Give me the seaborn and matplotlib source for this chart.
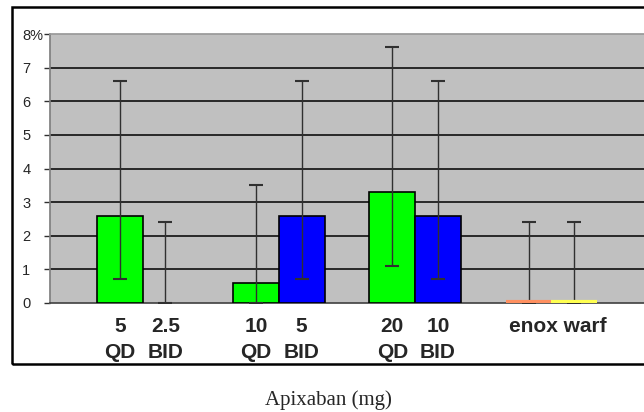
"""
Apixaban dose groups vs enox / warf, event rate (%) with asymmetric error bars.
"""
import matplotlib
matplotlib.use("Agg")
import matplotlib.pyplot as plt
import pandas as pd
import seaborn as sns
from matplotlib.patches import Rectangle

# data
groups = ["g1", "g1", "g2", "g2", "g3", "g3", "g4", "g4"]
slots = ["a", "b", "a", "b", "a", "b", "a", "b"]
tick_labels = ["5\nQD", "2.5\nBID", "10\nQD", "5\nBID", "20\nQD", "10\nBID", "enox", "warf"]
values = [2.6, 0.0, 0.6, 2.6, 3.3, 2.6, 0.0, 0.0]
err_low = [0.7, 0.0, 0.0, 0.7, 1.1, 0.7, 0.0, 0.0]
err_high = [6.6, 2.4, 3.5, 6.6, 7.6, 6.6, 2.4, 2.4]
bar_colors = ["#00ff00", "#0000ff", "#00ff00", "#0000ff", "#00ff00", "#0000ff", "#ff9060", "#ffff50"]
y_ticks = [0, 1, 2, 3, 4, 5, 6, 7, 8]
y_tick_labels = ["0", "1", "2", "3", "4", "5", "6", "7", "8%"]

df = pd.DataFrame({"group": groups, "slot": slots, "value": values,
                   "lo": err_low, "hi": err_high, "color": bar_colors,
                   "label": tick_labels})

sns.set_theme(style="white")
plt.rcParams["font.family"] = ["Liberation Sans", "DejaVu Sans"]

fig = plt.figure(figsize=(6.44, 4.12), dpi=100)
ax = fig.add_axes([50 / 644, 109 / 412, 1 - 50 / 644, 269 / 412])

sns.barplot(data=df, x="group", y="value", hue="slot", width=0.67,
            errorbar=None, legend=False, ax=ax, zorder=3)

# recolour bars and collect centres (containers are per hue level)
centres = {}
for slot, cont in zip(["a", "b"], ax.containers):
    sub = df[df["slot"] == slot]
    for (idx, row), patch in zip(sub.iterrows(), cont.patches):
        patch.set_facecolor(row["color"])
        x0, w = patch.get_x(), patch.get_width()
        if row["value"] == 0:
            patch.set_linewidth(0)
            if row["label"] in ("enox", "warf"):
                # zero-height bar shows only as a coloured strip on the axis
                ax.hlines(0.03, x0, x0 + w, color=row["color"], lw=3, zorder=5)
        else:
            patch.set_edgecolor("black")
            patch.set_linewidth(1.2)
        centres[idx] = x0 + w / 2

xs = [centres[i] for i in df.index]
ax.errorbar(xs, df["value"],
            yerr=[df["value"] - df["lo"], df["hi"] - df["value"]],
            fmt="none", ecolor="#303030", elinewidth=1, capsize=5, capthick=1.5,
            zorder=4)

ax.set_facecolor("#c0c0c0")
ax.set_ylim(0, 8)
ax.set_xlim(-0.68, 3.68)
for y in y_ticks[1:-1]:
    ax.axhline(y, color="black", lw=1.1, zorder=1)

ax.set_yticks(y_ticks)
ax.set_yticklabels(y_tick_labels)
for lbl in ax.get_yticklabels():
    lbl.set_horizontalalignment("left")
ax.tick_params(axis="y", length=4, width=1, color="#303030", pad=16,
               labelsize=10.5, direction="out", left=True)

# apixaban regimens under each bar, comparators share one label
ax.set_xticks(xs[:6] + [3.045])
ax.set_xticklabels(list(df["label"][:6]) + ["enox warf"], fontsize=15,
                   fontweight="bold", linespacing=1.5)
ax.tick_params(axis="x", length=0, pad=10)
ax.set_xlabel("")
ax.set_ylabel("")

ax.spines["right"].set_visible(False)
ax.spines["top"].set_color("#999999")
ax.spines["left"].set_color("#808080")
ax.spines["bottom"].set_color("#404040")
ax.spines["bottom"].set_linewidth(1.2)

# outer chart frame
fig.patches.append(Rectangle((12 / 644, 48 / 412), 1.0, (405 - 48) / 412,
                             transform=fig.transFigure, fill=False,
                             edgecolor="black", lw=1.8, zorder=0))

fig.text(328 / 644, 12 / 412, "Apixaban (mg)", ha="center", va="center",
         fontsize=15, family=["Liberation Serif", "DejaVu Serif"])

fig.savefig("out.png", dpi=100)
plt.close(fig)
